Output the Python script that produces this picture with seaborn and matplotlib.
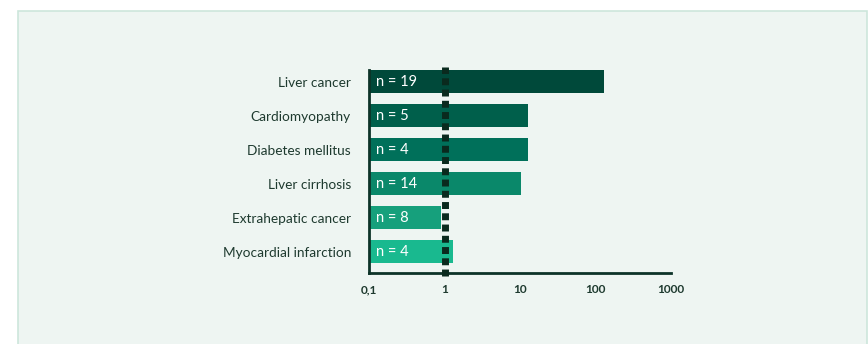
import matplotlib
matplotlib.use("Agg")
import matplotlib.pyplot as plt
import matplotlib.patches as mpatches
import seaborn as sns
import pandas as pd

# data
causes = ["Liver cancer", "Cardiomyopathy", "Diabetes mellitus",
          "Liver cirrhosis", "Extrahepatic cancer", "Myocardial infarction"]
ratios = [130, 12.8, 12.8, 10.3, 0.89, 1.28]
counts = [19, 5, 4, 14, 8, 4]
bar_colors = ["#00493a", "#005f4b", "#00705a", "#0a886a", "#16a07c", "#19b98f"]
tick_vals = [0.1, 1, 10, 100, 1000]
tick_text = ["0,1", "1", "10", "100", "1000"]
x_min, x_max = 0.1, 1000

df = pd.DataFrame({"cause": causes, "ratio": ratios, "n": counts})

sns.set_theme(style="white")
plt.rcParams["font.family"] = ["Lato", "DejaVu Sans"]

fig = plt.figure(figsize=(8.68, 3.44), dpi=100)
fig.patch.set_facecolor("white")

# light panel behind the chart
panel = mpatches.Rectangle((18 / 868, -0.01), (867 - 18) / 868, (344 - 11) / 344 + 0.01,
                           transform=fig.transFigure, facecolor="#eef5f2",
                           edgecolor="#cde6dc", linewidth=1.2, zorder=-10)
fig.patches.append(panel)

ax = fig.add_axes([369 / 868, 1 - 273 / 344, (671 - 369) / 868, (273 - 70) / 344])
ax.set_facecolor("none")

sns.barplot(data=df, x="ratio", y="cause", hue="cause", palette=bar_colors,
            legend=False, orient="h", width=0.68, ax=ax,
            saturation=1, linewidth=0)

# bars start at the left edge of the log axis instead of 0
for bar in ax.patches:
    right = bar.get_x() + bar.get_width()
    bar.set_x(x_min)
    bar.set_width(right - x_min)

ax.set_xscale("log")
ax.set_xlim(x_min, x_max)
ax.set_ylim(5.62, -0.35)
ax.set_xticks(tick_vals)
ax.set_xticklabels(tick_text, fontsize=8.5, fontweight="bold", color="#1e3a2f")
ax.minorticks_off()
ax.tick_params(axis="x", length=0, pad=8)
ax.tick_params(axis="y", length=0, pad=13, labelsize=9.8, labelcolor="#1e3a2f")
ax.set_xlabel("")
ax.set_ylabel("")

for s in ["top", "right"]:
    ax.spines[s].set_visible(False)
for s in ["left", "bottom"]:
    ax.spines[s].set_color("#0d3328")
    ax.spines[s].set_linewidth(2)

# counts inside the bars
for i, n in enumerate(counts):
    ax.text(0.125, i, f"n = {n}", color="white", fontsize=10.5, va="center", ha="left")

# reference line at 1
ax.axvline(1, ymin=-0.015, ymax=1.015, color="#0a2a1e", linewidth=5.0,
           linestyle=(0, (1.0, 0.62)), clip_on=False, zorder=5)

fig.savefig("out.png", dpi=100)
